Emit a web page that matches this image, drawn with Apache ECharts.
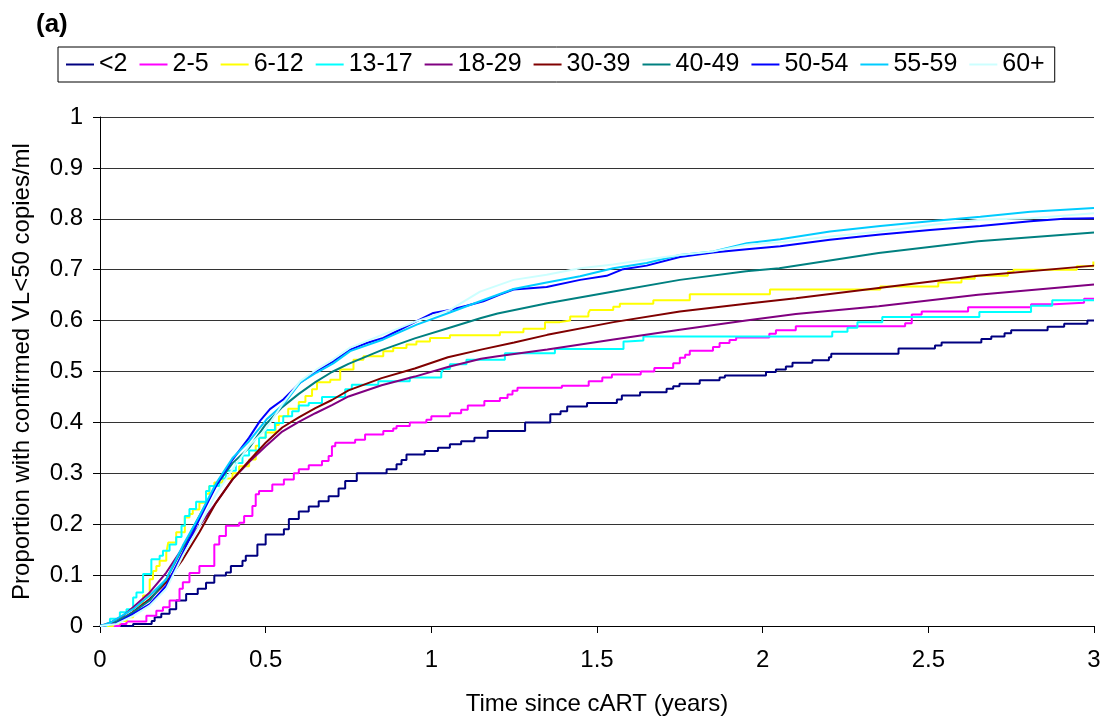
<!DOCTYPE html>
<html>
<head>
<meta charset="utf-8">
<script src="https://cdn.jsdelivr.net/npm/echarts@6/dist/echarts.min.js"></script>
<style>
  html, body { margin: 0; padding: 0; background: #fff; }
  #chart { width: 1106px; height: 721px; }
</style>
</head>
<body>
<div id="chart"></div>
<script>
// legend names, in drawing order
const groups = ['<2', '2-5', '6-12', '13-17', '18-29', '30-39', '40-49', '50-54', '55-59', '60+']
const colors = ['#000080', '#FF00FF', '#FFFF00', '#00FFFF', '#800080', '#800000', '#008080', '#0000FF', '#00CCFF', '#CCFFFF']

// [years since cART, proportion] - step series hold value from t onward
const age_lt2 = [[0,0],[0.1,0.004],[0.156,0.01],[0.165,0.017],[0.185,0.024],[0.21,0.033],[0.23,0.05],[0.26,0.063],[0.295,0.073],[0.32,0.085],[0.345,0.099],[0.38,0.105],[0.395,0.118],[0.43,0.128],[0.44,0.138],[0.475,0.16],[0.5,0.18],[0.555,0.19],[0.57,0.21],[0.6,0.225],[0.63,0.235],[0.66,0.245],[0.69,0.255],[0.72,0.27],[0.74,0.285],[0.775,0.3],[0.865,0.308],[0.895,0.318],[0.91,0.326],[0.925,0.337],[0.98,0.344],[1.02,0.35],[1.056,0.357],[1.09,0.363],[1.13,0.37],[1.17,0.383],[1.283,0.4],[1.359,0.416],[1.39,0.422],[1.41,0.431],[1.47,0.438],[1.56,0.445],[1.575,0.453],[1.63,0.459],[1.71,0.466],[1.73,0.471],[1.749,0.476],[1.81,0.483],[1.87,0.488],[1.886,0.492],[2.01,0.499],[2.04,0.504],[2.07,0.51],[2.09,0.517],[2.15,0.522],[2.2,0.528],[2.207,0.535],[2.41,0.545],[2.52,0.551],[2.54,0.557],[2.66,0.564],[2.69,0.569],[2.73,0.575],[2.75,0.581],[2.86,0.588],[2.91,0.594],[2.98,0.6],[3,0.6]]
const age_2_5 = [[0,0],[0.06,0.004],[0.08,0.009],[0.14,0.02],[0.17,0.03],[0.19,0.037],[0.21,0.05],[0.24,0.073],[0.25,0.086],[0.27,0.104],[0.3,0.118],[0.345,0.16],[0.36,0.177],[0.38,0.197],[0.42,0.203],[0.435,0.216],[0.46,0.236],[0.47,0.259],[0.48,0.265],[0.52,0.278],[0.555,0.288],[0.585,0.3],[0.6,0.308],[0.63,0.316],[0.67,0.324],[0.69,0.334],[0.7,0.353],[0.71,0.36],[0.77,0.366],[0.8,0.376],[0.855,0.383],[0.885,0.388],[0.895,0.393],[0.935,0.4],[0.985,0.405],[1.0,0.412],[1.056,0.418],[1.09,0.425],[1.11,0.433],[1.16,0.442],[1.207,0.448],[1.23,0.455],[1.245,0.462],[1.26,0.468],[1.394,0.472],[1.475,0.481],[1.516,0.488],[1.545,0.494],[1.632,0.5],[1.673,0.507],[1.73,0.516],[1.75,0.527],[1.766,0.533],[1.78,0.541],[1.85,0.548],[1.87,0.556],[1.9,0.562],[1.92,0.567],[2.02,0.574],[2.04,0.581],[2.1,0.589],[2.43,0.595],[2.45,0.612],[2.48,0.618],[2.62,0.626],[2.81,0.632],[2.88,0.635],[2.97,0.643],[3,0.643]]
const age_6_12 = [[0,0],[0.04,0.005],[0.06,0.01],[0.08,0.017],[0.1,0.03],[0.12,0.045],[0.13,0.06],[0.15,0.092],[0.16,0.108],[0.17,0.118],[0.18,0.128],[0.2,0.144],[0.206,0.164],[0.23,0.184],[0.256,0.213],[0.27,0.22],[0.28,0.229],[0.3,0.242],[0.32,0.26],[0.33,0.275],[0.345,0.282],[0.37,0.29],[0.4,0.3],[0.42,0.314],[0.45,0.327],[0.47,0.354],[0.48,0.37],[0.5,0.38],[0.53,0.395],[0.54,0.412],[0.568,0.427],[0.6,0.44],[0.62,0.452],[0.64,0.465],[0.655,0.479],[0.695,0.484],[0.725,0.504],[0.765,0.523],[0.795,0.53],[0.855,0.54],[0.885,0.546],[0.925,0.553],[0.955,0.559],[0.996,0.566],[1.056,0.571],[1.207,0.577],[1.278,0.584],[1.343,0.597],[1.388,0.6],[1.419,0.608],[1.474,0.615],[1.479,0.621],[1.549,0.627],[1.569,0.633],[1.67,0.64],[1.78,0.652],[2.022,0.661],[2.355,0.667],[2.53,0.675],[2.6,0.682],[2.64,0.688],[2.74,0.696],[2.757,0.7],[2.948,0.707],[2.998,0.716],[3,0.716]]
const age_13_17 = [[0,0],[0.02,0.005],[0.03,0.014],[0.06,0.027],[0.08,0.033],[0.1,0.056],[0.11,0.066],[0.13,0.102],[0.155,0.131],[0.18,0.138],[0.19,0.148],[0.21,0.16],[0.23,0.175],[0.246,0.197],[0.256,0.216],[0.27,0.23],[0.29,0.244],[0.32,0.265],[0.33,0.275],[0.36,0.29],[0.38,0.305],[0.41,0.32],[0.43,0.335],[0.45,0.345],[0.48,0.37],[0.5,0.385],[0.528,0.399],[0.553,0.412],[0.58,0.422],[0.6,0.433],[0.63,0.438],[0.67,0.45],[0.74,0.465],[0.76,0.474],[0.84,0.481],[0.935,0.488],[1.03,0.497],[1.036,0.505],[1.056,0.514],[1.106,0.523],[1.222,0.536],[1.373,0.544],[1.58,0.559],[1.59,0.561],[1.64,0.569],[2.21,0.578],[2.256,0.586],[2.286,0.597],[2.361,0.607],[2.654,0.617],[2.81,0.629],[2.874,0.64],[3,0.64]]
const age_18_29 = [[0,0],[0.03,0.006],[0.07,0.02],[0.1,0.037],[0.15,0.066],[0.2,0.105],[0.25,0.154],[0.3,0.197],[0.35,0.242],[0.4,0.288],[0.45,0.322],[0.5,0.353],[0.55,0.382],[0.6,0.401],[0.65,0.418],[0.7,0.434],[0.75,0.451],[0.85,0.473],[0.95,0.49],[1.05,0.509],[1.15,0.525],[1.2,0.53],[1.35,0.543],[1.55,0.563],[1.75,0.582],[1.95,0.6],[2.1,0.613],[2.35,0.628],[2.65,0.651],[3,0.671]]
const age_30_39 = [[0,0],[0.02,0.002],[0.06,0.01],[0.1,0.028],[0.15,0.053],[0.2,0.086],[0.25,0.131],[0.3,0.184],[0.35,0.242],[0.4,0.288],[0.45,0.325],[0.5,0.36],[0.55,0.39],[0.6,0.41],[0.65,0.428],[0.7,0.444],[0.75,0.463],[0.85,0.487],[0.95,0.506],[1.05,0.528],[1.15,0.543],[1.25,0.557],[1.35,0.572],[1.55,0.597],[1.75,0.618],[1.95,0.633],[2.1,0.644],[2.35,0.664],[2.65,0.688],[3,0.708]]
const age_40_49 = [[0,0],[0.04,0.005],[0.1,0.027],[0.15,0.05],[0.2,0.092],[0.25,0.154],[0.3,0.216],[0.35,0.275],[0.4,0.32],[0.45,0.35],[0.5,0.396],[0.55,0.43],[0.6,0.456],[0.65,0.479],[0.7,0.499],[0.75,0.515],[0.85,0.542],[0.95,0.565],[1.05,0.585],[1.15,0.605],[1.2,0.614],[1.35,0.634],[1.55,0.657],[1.75,0.68],[1.95,0.697],[2.05,0.703],[2.35,0.733],[2.65,0.756],[3,0.773]]
const age_50_54 = [[0,0],[0.05,0.005],[0.1,0.024],[0.15,0.043],[0.2,0.079],[0.25,0.144],[0.3,0.21],[0.35,0.275],[0.4,0.327],[0.45,0.37],[0.483,0.403],[0.513,0.426],[0.553,0.445],[0.604,0.478],[0.654,0.501],[0.704,0.52],[0.755,0.543],[0.805,0.556],[0.855,0.566],[0.905,0.582],[0.956,0.599],[1.006,0.615],[1.056,0.621],[1.106,0.629],[1.157,0.638],[1.207,0.651],[1.248,0.661],[1.348,0.666],[1.449,0.68],[1.529,0.688],[1.579,0.701],[1.65,0.708],[1.75,0.725],[1.851,0.734],[1.952,0.74],[2.053,0.746],[2.203,0.759],[2.355,0.769],[2.505,0.778],[2.657,0.786],[2.808,0.795],[2.909,0.8],[3,0.801]]
const age_55_59 = [[0,0],[0.03,0.006],[0.1,0.033],[0.15,0.06],[0.2,0.092],[0.25,0.158],[0.3,0.216],[0.35,0.28],[0.4,0.33],[0.45,0.363],[0.503,0.406],[0.553,0.435],[0.604,0.478],[0.654,0.498],[0.704,0.516],[0.755,0.54],[0.855,0.563],[0.956,0.592],[1.056,0.616],[1.147,0.638],[1.248,0.662],[1.348,0.675],[1.449,0.687],[1.549,0.703],[1.65,0.713],[1.75,0.729],[1.851,0.736],[1.952,0.752],[2.053,0.76],[2.203,0.775],[2.355,0.786],[2.505,0.795],[2.657,0.804],[2.808,0.814],[3,0.821]]
const age_60p = [[0,0],[0.05,0.004],[0.1,0.02],[0.15,0.04],[0.2,0.073],[0.25,0.138],[0.3,0.197],[0.35,0.259],[0.4,0.308],[0.45,0.354],[0.5,0.386],[0.553,0.438],[0.604,0.481],[0.654,0.504],[0.704,0.524],[0.755,0.547],[0.855,0.573],[0.956,0.599],[1.056,0.621],[1.147,0.657],[1.248,0.68],[1.348,0.69],[1.449,0.703],[1.549,0.71],[1.65,0.72],[1.75,0.729],[1.851,0.736],[1.952,0.749],[2.053,0.754],[2.203,0.765],[2.355,0.775],[2.505,0.788],[2.657,0.798],[2.808,0.801],[3,0.811]]

const seriesData = [age_lt2, age_2_5, age_6_12, age_13_17, age_18_29, age_30_39, age_40_49, age_50_54, age_55_59, age_60p]
// the small groups have few patients, so they show as visible steps
const stepped = [true, true, true, true, false, false, false, false, false, false]

const font = 'Liberation Sans, Arial, sans-serif'

let myChart = echarts.init(document.getElementById('chart'))

let option = {
  animation: false,
  backgroundColor: '#fff',
  title: {
    text: '(a)',
    left: 31,
    top: 7,
    textStyle: { fontFamily: font, fontSize: 26, fontWeight: 'bold', color: '#000' }
  },
  legend: {
    data: groups,
    left: 58,
    top: 47,
    orient: 'horizontal',
    icon: 'rect',
    padding: [4, 10, 4, 8],
    itemGap: 12,
    itemWidth: 28,
    itemHeight: 2,
    borderColor: '#000',
    borderWidth: 1,
    textStyle: { fontFamily: font, fontSize: 25, color: '#000', lineHeight: 27 }
  },
  grid: {
    left: 100,
    right: 12,
    top: 117,
    bottom: 94
  },
  xAxis: {
    type: 'value',
    min: 0,
    max: 3,
    interval: 0.5,
    name: 'Time since cART (years)',
    nameLocation: 'middle',
    nameGap: 66,
    nameTextStyle: { fontFamily: font, fontSize: 24, color: '#000' },
    axisLine: { lineStyle: { color: '#000', width: 1 } },
    axisTick: { show: true, inside: false, length: 7, lineStyle: { color: '#000' } },
    axisLabel: { fontFamily: font, fontSize: 24, color: '#000', margin: 22 },
    splitLine: { show: false }
  },
  yAxis: {
    type: 'value',
    min: 0,
    max: 1,
    interval: 0.1,
    name: 'Proportion with confirmed VL<50 copies/ml',
    nameLocation: 'middle',
    nameGap: 66,
    nameTextStyle: { fontFamily: font, fontSize: 24, color: '#000' },
    axisLine: { show: true, lineStyle: { color: '#000', width: 1 } },
    axisTick: { show: true, inside: false, length: 7, lineStyle: { color: '#000' } },
    axisLabel: { fontFamily: font, fontSize: 24, color: '#000', margin: 17 },
    splitLine: { show: true, lineStyle: { color: '#333', width: 1 } }
  },
  series: groups.map((name, i) => ({
    name: name,
    type: 'line',
    data: seriesData[i],
    step: stepped[i] ? 'end' : false,
    symbol: 'none',
    smooth: false,
    lineStyle: { color: colors[i], width: 2 },
    itemStyle: { color: colors[i] }
  }))
}

myChart.setOption(option, true)
</script>
</body>
</html>
